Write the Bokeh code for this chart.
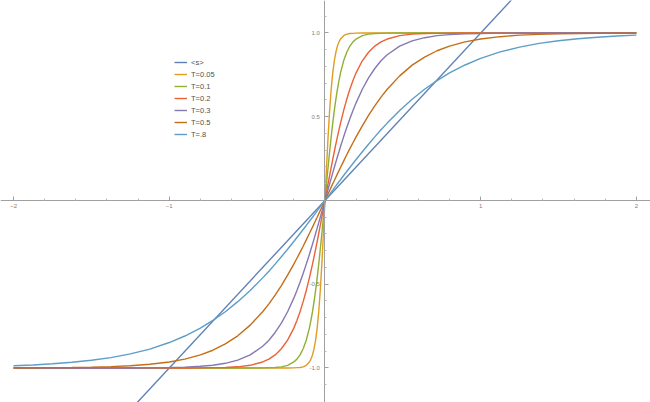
from bokeh.plotting import figure
from bokeh.models import LinearAxis, FixedTicker, Legend, LegendItem, PrintfTickFormatter, Range1d
from bokeh.embed import file_html
from bokeh.resources import INLINE

# x grid shared by all curves
x = [-2.0, -1.875, -1.75, -1.625, -1.5, -1.375, -1.25, -1.125, -1.0, -0.9, -0.8, -0.72, -0.64, -0.56,
     -0.48, -0.4, -0.36, -0.32, -0.28, -0.24, -0.2, -0.18, -0.16, -0.14, -0.12, -0.1, -0.09, -0.08,
     -0.07, -0.06, -0.05, -0.04, -0.03, -0.02, -0.01,
     0.0,
     0.01, 0.02, 0.03, 0.04, 0.05, 0.06, 0.07, 0.08, 0.09, 0.1, 0.12, 0.14, 0.16, 0.18, 0.2, 0.24,
     0.28, 0.32, 0.36, 0.4, 0.48, 0.56, 0.64, 0.72, 0.8, 0.9, 1.0, 1.125, 1.25, 1.375, 1.5, 1.625,
     1.75, 1.875, 2.0]

t005 = [-1.0, -1.0, -1.0, -1.0, -1.0, -1.0, -1.0, -1.0, -1.0, -1.0, -1.0, -1.0, -1.0, -1.0, -1.0,
        -1.0, -1.0, -1.0, -1.0, -1.0, -0.999, -0.998, -0.997, -0.993, -0.984, -0.964, -0.947, -0.922,
        -0.885, -0.834, -0.762, -0.664, -0.537, -0.380, -0.197,
        0.0,
        0.197, 0.380, 0.537, 0.664, 0.762, 0.834, 0.885, 0.922, 0.947, 0.964, 0.984, 0.993, 0.997,
        0.998, 0.999, 1.0, 1.0, 1.0, 1.0, 1.0, 1.0, 1.0, 1.0, 1.0, 1.0, 1.0, 1.0, 1.0, 1.0, 1.0, 1.0,
        1.0, 1.0, 1.0, 1.0]

t01 = [-1.0, -1.0, -1.0, -1.0, -1.0, -1.0, -1.0, -1.0, -1.0, -1.0, -1.0, -1.0, -1.0, -1.0, -1.0,
       -0.999, -0.998, -0.997, -0.993, -0.984, -0.964, -0.947, -0.922, -0.885, -0.834, -0.762, -0.716,
       -0.664, -0.604, -0.537, -0.462, -0.380, -0.291, -0.197, -0.100,
       0.0,
       0.100, 0.197, 0.291, 0.380, 0.462, 0.537, 0.604, 0.664, 0.716, 0.762, 0.834, 0.885, 0.922,
       0.947, 0.964, 0.984, 0.993, 0.997, 0.998, 0.999, 1.0, 1.0, 1.0, 1.0, 1.0, 1.0, 1.0, 1.0, 1.0,
       1.0, 1.0, 1.0, 1.0, 1.0, 1.0]

t02 = [-1.0, -1.0, -1.0, -1.0, -1.0, -1.0, -1.0, -1.0, -1.0, -1.0, -0.999, -0.998, -0.997, -0.993,
       -0.984, -0.964, -0.947, -0.922, -0.885, -0.834, -0.762, -0.716, -0.664, -0.604, -0.537, -0.462,
       -0.422, -0.380, -0.336, -0.291, -0.245, -0.197, -0.149, -0.100, -0.050,
       0.0,
       0.050, 0.100, 0.149, 0.197, 0.245, 0.291, 0.336, 0.380, 0.422, 0.462, 0.537, 0.604, 0.664,
       0.716, 0.762, 0.834, 0.885, 0.922, 0.947, 0.964, 0.984, 0.993, 0.997, 0.998, 0.999, 1.0, 1.0,
       1.0, 1.0, 1.0, 1.0, 1.0, 1.0, 1.0, 1.0]

t03 = [-1.0, -1.0, -1.0, -1.0, -1.0, -1.0, -1.0, -0.999, -0.997, -0.995, -0.990, -0.984, -0.972,
       -0.953, -0.922, -0.870, -0.834, -0.788, -0.732, -0.664, -0.583, -0.537, -0.488, -0.436, -0.380,
       -0.322, -0.291, -0.261, -0.229, -0.197, -0.165, -0.132, -0.100, -0.067, -0.033,
       0.0,
       0.033, 0.067, 0.100, 0.132, 0.165, 0.197, 0.229, 0.261, 0.291, 0.322, 0.380, 0.436, 0.488,
       0.537, 0.583, 0.664, 0.732, 0.788, 0.834, 0.870, 0.922, 0.953, 0.972, 0.984, 0.990, 0.995,
       0.997, 0.999, 1.0, 1.0, 1.0, 1.0, 1.0, 1.0, 1.0]

t05 = [-0.999, -0.999, -0.998, -0.997, -0.995, -0.992, -0.987, -0.978, -0.964, -0.947, -0.922, -0.894,
       -0.856, -0.808, -0.744, -0.664, -0.617, -0.565, -0.508, -0.446, -0.380, -0.345, -0.310, -0.273,
       -0.235, -0.197, -0.178, -0.159, -0.139, -0.119, -0.100, -0.080, -0.060, -0.040, -0.020,
       0.0,
       0.020, 0.040, 0.060, 0.080, 0.100, 0.119, 0.139, 0.159, 0.178, 0.197, 0.235, 0.273, 0.310,
       0.345, 0.380, 0.446, 0.508, 0.565, 0.617, 0.664, 0.744, 0.808, 0.856, 0.894, 0.922, 0.947,
       0.964, 0.978, 0.987, 0.992, 0.995, 0.997, 0.998, 0.999, 0.999]

t08 = [-0.987, -0.982, -0.975, -0.966, -0.954, -0.938, -0.916, -0.887, -0.848, -0.809, -0.762, -0.716,
       -0.664, -0.604, -0.537, -0.462, -0.422, -0.380, -0.336, -0.291, -0.245, -0.221, -0.197, -0.173,
       -0.149, -0.124, -0.112, -0.100, -0.087, -0.075, -0.062, -0.050, -0.037, -0.025, -0.012,
       0.0,
       0.012, 0.025, 0.037, 0.050, 0.062, 0.075, 0.087, 0.100, 0.112, 0.124, 0.149, 0.173, 0.197,
       0.221, 0.245, 0.291, 0.336, 0.380, 0.422, 0.462, 0.537, 0.604, 0.664, 0.716, 0.762, 0.809,
       0.848, 0.887, 0.916, 0.938, 0.954, 0.966, 0.975, 0.982, 0.987]

s_x = [-1.3, 1.3]
s_y = [-1.3, 1.3]

labels = ["<s>", "T=0.05", "T=0.1", "T=0.2", "T=0.3", "T=0.5", "T=.8"]
colors = ["#5E81B5", "#E09C24", "#8FB032", "#EB6235", "#8778B3", "#C56E1A", "#5D9EC7"]

x_major = [-2, -1, 1, 2]
x_minor = [-1.8, -1.6, -1.4, -1.2, -0.8, -0.6, -0.4, -0.2, 0.2, 0.4, 0.6, 0.8, 1.2, 1.4, 1.6, 1.8]
y_major = [-1.0, -0.5, 0.5, 1.0]
y_minor = [-1.1, -0.9, -0.8, -0.7, -0.6, -0.4, -0.3, -0.2, -0.1, 0.1, 0.2, 0.3, 0.4, 0.6, 0.7, 0.8, 0.9, 1.1]

p = figure(width=650, height=402, output_backend="svg", toolbar_location=None,
           x_range=Range1d(-2.084, 2.091), y_range=Range1d(-1.206, 1.194),
           x_axis_location=None, y_axis_location=None, min_border=0)
p.grid.visible = False
p.outline_line_color = None

xaxis = LinearAxis(fixed_location=0, ticker=FixedTicker(ticks=x_major, minor_ticks=x_minor))
yaxis = LinearAxis(fixed_location=0, ticker=FixedTicker(ticks=y_major, minor_ticks=y_minor),
                   formatter=PrintfTickFormatter(format="%.1f"))
for ax in (xaxis, yaxis):
    ax.axis_line_color = "#a0a0a0"
    ax.axis_line_width = 1
    ax.major_tick_line_color = "#a0a0a0"
    ax.minor_tick_line_color = "#b8b8b8"
    ax.major_tick_in = 4
    ax.major_tick_out = 0
    ax.minor_tick_in = 2
    ax.minor_tick_out = 0
    ax.major_label_text_font = "Liberation Sans"
    ax.major_label_text_font_size = "6px"
    ax.major_label_text_color = "#808080"
xaxis.major_label_standoff = 4
yaxis.major_label_standoff = 5
p.add_layout(xaxis, "below")
p.add_layout(yaxis, "left")

series = [(s_x, s_y), (x, t005), (x, t01), (x, t02), (x, t03), (x, t05), (x, t08)]
items = []
for (xs, ys), lab, col in zip(series, labels, colors):
    r = p.line(xs, ys, line_color=col, line_width=1.4)
    items.append(LegendItem(label=lab, renderers=[r]))

legend = Legend(items=items, location=(174, 262), orientation="vertical",
                background_fill_alpha=0, border_line_alpha=0, padding=0, margin=0, spacing=0,
                label_height=12, glyph_height=12, glyph_width=13, label_standoff=4,
                label_text_font="Liberation Sans", label_text_font_size="7.5px",
                label_text_color="#505050")
p.add_layout(legend)

open("out.html", "w").write(file_html(p, INLINE))
